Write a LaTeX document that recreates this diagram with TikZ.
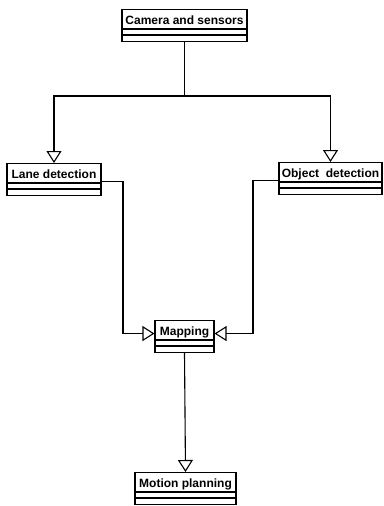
\documentclass[tikz,border=0pt]{standalone}
\usepackage{fontspec}
\setmainfont{Liberation Sans}
\usetikzlibrary{arrows.meta}

\begin{document}
\begin{tikzpicture}[x=1pt, y=-1pt, line width=1.1pt]
	\tikzstyle{cls}=[draw=black, anchor=north, inner xsep=2pt, inner ysep=0pt, text height=15pt, text depth=17pt, font=\bfseries\fontsize{12}{14}\selectfont,
		append after command={
			\pgfextra{\draw ([yshift=-20pt]\tikzlastnode.north west) -- ([yshift=-20pt]\tikzlastnode.north east);
			\draw ([yshift=-26pt]\tikzlastnode.north west) -- ([yshift=-26pt]\tikzlastnode.north east);}}]
	\tikzstyle{uml}=[-{Triangle[open, length=12pt, width=15pt]}]

	\useasboundingbox (0,0) rectangle (383,506);

	% Draw classes
	\node[cls, minimum width=125pt] (camera) at (184.5,9) {Camera and sensors};
	\node[cls, minimum width=94pt] (lane) at (54,163) {Lane detection};
	\node[cls, minimum width=103pt] (object) at (330.5,162) {Object\ \ detection};
	\node[cls, minimum width=59pt] (mapping) at (184.5,320) {Mapping};
	\node[cls, minimum width=101pt] (motion) at (185.5,472) {Motion planning};

	\coordinate (split) at (184.5,96);
	\coordinate (lanejog) at (123,250);
	\coordinate (objectjog) at (253,250);

	% Draw arrows
	\draw (camera.south) -- (split);
	\draw[uml] (split) -| (lane.north);
	\draw[uml] (split) -| (object.north);
	\draw[uml] ([yshift=-2pt]lane.east) -| (lanejog) |- ([yshift=3pt]mapping.west);
	\draw[uml] ([yshift=-2pt]object.west) -| (objectjog) |- ([yshift=3pt]mapping.east);
	\draw[uml] (mapping.south) -- (motion.north);

\end{tikzpicture}
\end{document}
